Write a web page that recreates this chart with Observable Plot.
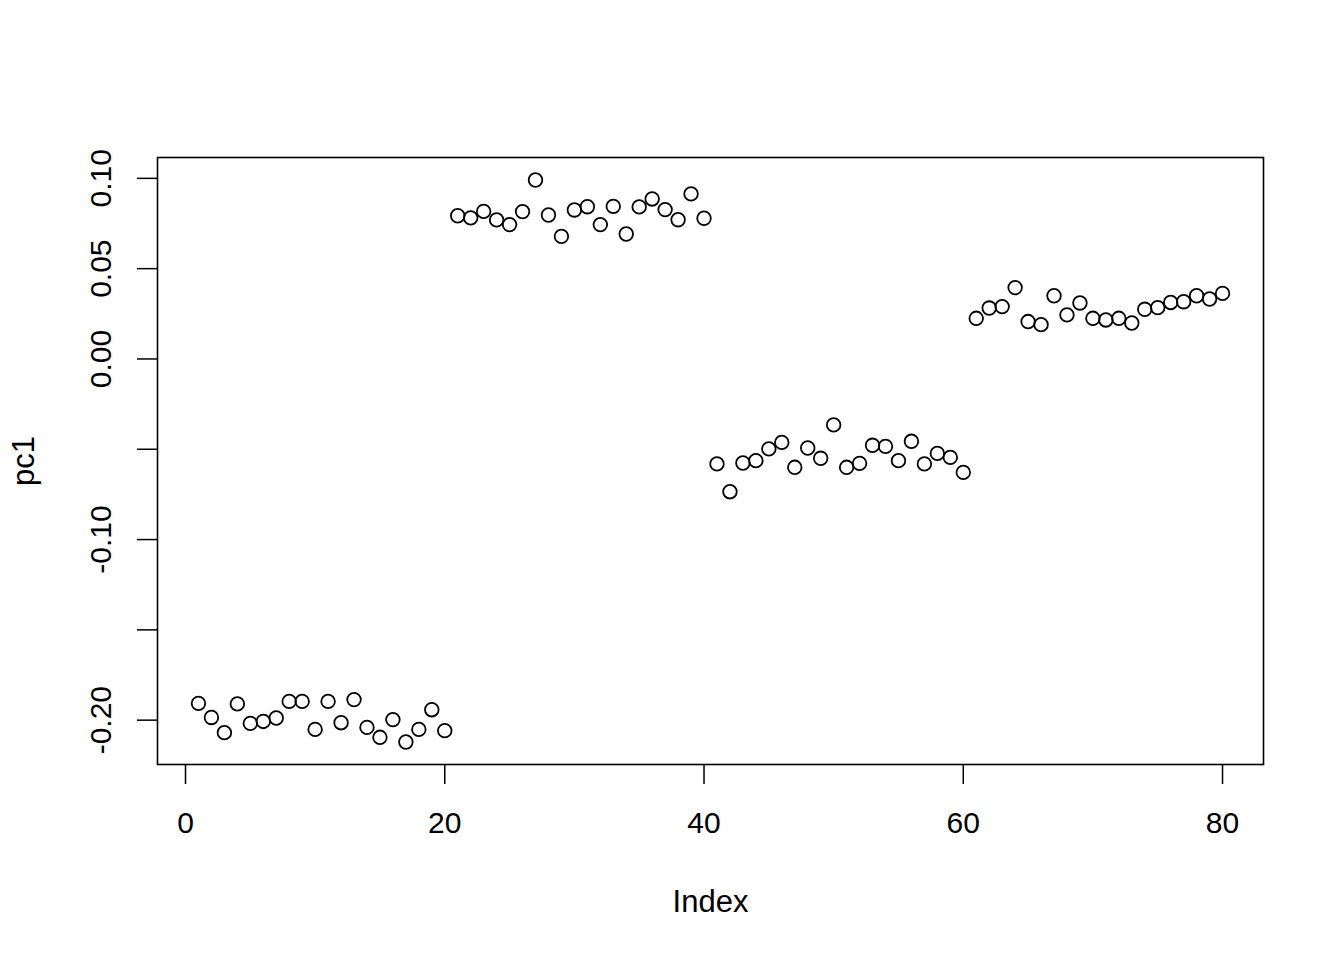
<!DOCTYPE html>
<html>
<head>
<meta charset="utf-8">
<script src="https://cdn.jsdelivr.net/npm/d3@7"></script>
<script src="https://cdn.jsdelivr.net/npm/@observablehq/plot@0.6"></script>
<style>
  html, body { margin: 0; padding: 0; background: #fff; }
  #chart svg { display: block; }
</style>
</head>
<body>
<div id="chart"></div>
<script>
const pc1 = [
  -0.1907, -0.1985, -0.2069, -0.1910, -0.2018, -0.2007, -0.1988, -0.1896, -0.1896, -0.2051,
  -0.1896, -0.2014, -0.1886, -0.2040, -0.2095, -0.1997, -0.2121, -0.2051, -0.1942, -0.2058,
  0.0793, 0.0781, 0.0817, 0.0770, 0.0744, 0.0816, 0.0991, 0.0797, 0.0679, 0.0825,
  0.0843, 0.0744, 0.0845, 0.0692, 0.0842, 0.0886, 0.0827, 0.0771, 0.0914, 0.0779,
  -0.0581, -0.0735, -0.0576, -0.0563, -0.0498, -0.0462, -0.0600, -0.0493, -0.0550, -0.0365,
  -0.0600, -0.0578, -0.0478, -0.0484, -0.0563, -0.0456, -0.0581, -0.0523, -0.0545, -0.0628,
  0.0225, 0.0282, 0.0290, 0.0395, 0.0207, 0.0190, 0.0350, 0.0244, 0.0310, 0.0225,
  0.0216, 0.0225, 0.0199, 0.0275, 0.0284, 0.0313, 0.0317, 0.0350, 0.0332, 0.0363
];
const xTicks = [0, 20, 40, 60, 80];
const yTicks = [-0.20, -0.15, -0.10, -0.05, 0.00, 0.05, 0.10];
const yLabelTicks = [-0.20, -0.10, 0.00, 0.05, 0.10];
const xLabel = "Index";
const yLabel = "pc1";

const data = pc1.map((v, i) => ({index: i + 1, value: v}));

// R-style 4% domain extension
const xExt = d3.extent(data, d => d.index);
const yExt = d3.extent(data, d => d.value);
const xPad = (xExt[1] - xExt[0]) * 0.04;
const yPad = (yExt[1] - yExt[0]) * 0.04;

const font = "Liberation Sans, Arial, Helvetica, sans-serif";

const chart = Plot.plot({
  width: 1344,
  height: 960,
  marginLeft: 157,
  marginRight: 81,
  marginTop: 157,
  marginBottom: 196,
  style: {fontFamily: font, background: "#fff", color: "#000"},
  x: {domain: [xExt[0] - xPad, xExt[1] + xPad]},
  y: {domain: [yExt[0] - yPad, yExt[1] + yPad]},
  marks: [
    Plot.axisX({ticks: xTicks, tickSize: 20, tickPadding: 27, fontSize: 30, label: null, stroke: "#000", strokeWidth: 1.5, tickFormat: d => String(d)}),
    Plot.axisY({ticks: yTicks, tickSize: 20, tickFormat: () => "", label: null, stroke: "#000", strokeWidth: 1.5}),
    Plot.text(yLabelTicks, {
      y: d => d,
      text: d => d.toFixed(2),
      frameAnchor: "left",
      dx: -56,
      rotate: -90,
      textAnchor: "middle",
      lineAnchor: "middle",
      fontSize: 30,
      fill: "#000"
    }),
    Plot.text([xLabel], {frameAnchor: "bottom", dy: 138, lineAnchor: "middle", textAnchor: "middle", fontSize: 31, fill: "#000"}),
    Plot.text([yLabel], {frameAnchor: "left", dx: -133, rotate: -90, lineAnchor: "middle", textAnchor: "middle", fontSize: 31, fill: "#000"}),
    Plot.frame({stroke: "#000", strokeWidth: 1.6}),
    Plot.dot(data, {x: "index", y: "value", r: 6.8, stroke: "#000", strokeWidth: 1.8, fill: "none"})
  ]
});
document.getElementById("chart").appendChild(chart);
</script>
</body>
</html>
